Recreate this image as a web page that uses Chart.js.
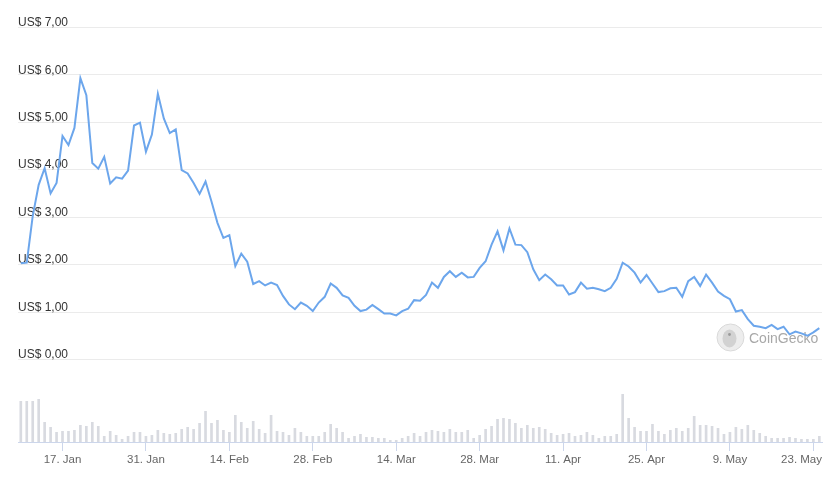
<!DOCTYPE html>
<html>
<head>
<meta charset="utf-8">
<script src="https://cdn.jsdelivr.net/npm/chart.js@4"></script>
<style>
  html, body { margin: 0; padding: 0; background: #ffffff; }
  #wrap { position: relative; width: 839px; height: 481px; }
</style>
</head>
<body>
<div id="wrap"><canvas id="c" width="839" height="481"></canvas></div>
<script>
// ---- data ----
const startDate = '2022-01-10';
const dayCount = 135;
const dates = [];
(function () {
  const d0 = new Date(startDate + 'T00:00:00Z');
  for (let i = 0; i < dayCount; i++) {
    const d = new Date(d0.getTime() + i * 86400000);
    dates.push(d.toISOString().slice(0, 10));
  }
})();

// price in USD (one per day)
const prices = [
  2.03, 2.04, 3.02, 3.68, 4.03, 3.50, 3.72, 4.71, 4.52, 4.88,
  5.93, 5.57, 4.14, 4.02, 4.27, 3.71, 3.84, 3.81, 3.98, 4.93,
  4.99, 4.38, 4.74, 5.60, 5.08, 4.77, 4.85, 3.99, 3.92, 3.72,
  3.49, 3.75, 3.33, 2.88, 2.56, 2.62, 1.97, 2.23, 2.06, 1.59,
  1.65, 1.56, 1.62, 1.57, 1.34, 1.16, 1.06, 1.20, 1.13, 1.02,
  1.20, 1.32, 1.60, 1.51, 1.35, 1.30, 1.13, 1.02, 1.05, 1.15,
  1.06, 0.97, 0.97, 0.93, 1.02, 1.07, 1.25, 1.24, 1.36, 1.62,
  1.51, 1.74, 1.86, 1.74, 1.83, 1.73, 1.74, 1.93, 2.07, 2.42,
  2.70, 2.30, 2.76, 2.42, 2.41, 2.26, 1.90, 1.67, 1.79, 1.69,
  1.56, 1.56, 1.37, 1.42, 1.62, 1.49, 1.51, 1.48, 1.44, 1.51,
  1.70, 2.04, 1.96, 1.83, 1.62, 1.78, 1.60, 1.42, 1.44, 1.50,
  1.51, 1.32, 1.65, 1.74, 1.55, 1.79, 1.62, 1.43, 1.34, 1.27,
  1.01, 1.04, 0.85, 0.71, 0.69, 0.66, 0.73, 0.64, 0.69, 0.53,
  0.59, 0.55, 0.50, 0.57, 0.66
];

// traded volume (millions USD, estimated)
const volumes = [
  12.2, 12.2, 12.2, 12.8, 5.9, 4.4, 2.9, 3.2, 3.2, 3.5,
  5.0, 4.7, 5.9, 4.7, 1.7, 3.2, 2.0, 0.8, 1.7, 2.9,
  2.9, 1.7, 2.0, 3.5, 2.6, 2.3, 2.6, 3.8, 4.4, 3.8,
  5.6, 9.2, 5.6, 6.5, 3.5, 2.9, 8.0, 5.9, 4.1, 6.2,
  3.8, 2.6, 8.0, 3.2, 2.9, 2.0, 4.1, 2.9, 1.7, 1.7,
  1.7, 2.9, 5.3, 4.1, 2.9, 1.1, 1.7, 2.3, 1.4, 1.4,
  1.1, 1.1, 0.5, 0.5, 1.1, 1.7, 2.6, 1.7, 2.9, 3.5,
  3.2, 2.9, 3.8, 2.9, 2.9, 3.5, 1.1, 2.0, 3.8, 4.7,
  6.8, 7.1, 6.8, 5.6, 4.1, 5.0, 4.1, 4.4, 3.8, 2.6,
  2.0, 2.3, 2.6, 1.7, 2.0, 2.9, 2.0, 1.1, 1.7, 1.7,
  2.3, 14.3, 7.1, 4.4, 3.2, 3.2, 5.3, 3.2, 2.3, 3.5,
  4.1, 3.2, 4.1, 7.7, 5.0, 5.0, 4.7, 4.1, 2.3, 2.9,
  4.4, 3.8, 5.0, 3.5, 2.6, 1.7, 1.1, 1.1, 1.1, 1.4,
  1.1, 0.8, 0.8, 0.8, 1.7
];

const tickDates  = ['2022-01-17','2022-01-31','2022-02-14','2022-02-28','2022-03-14',
                    '2022-03-28','2022-04-11','2022-04-25','2022-05-09','2022-05-23'];
const tickLabels = ['17. Jan','31. Jan','14. Feb','28. Feb','14. Mar',
                    '28. Mar','11. Apr','25. Apr','9. May','23. May'];
const priceTicks = [0, 1, 2, 3, 4, 5, 6, 7];

// ---- build ----
const tickIdx = tickDates.map(d => dates.indexOf(d));
const labelByIdx = {};
tickIdx.forEach((ix, k) => { labelByIdx[ix] = tickLabels[k]; });

// keep the last x label inside the plot area (right-justified to plot edge)
const justifyLastLabel = {
  id: 'justifyLastLabel',
  beforeDraw(chart) {
    const sc = chart.scales.x;
    const items = sc.getLabelItems();
    if (!items || !items.length) return;
    const last = items[items.length - 1];
    const ctx = chart.ctx;
    ctx.save();
    ctx.font = last.font.string;
    const w = ctx.measureText(String(last.label)).width;
    ctx.restore();
    const rightEdge = chart.chartArea.right;
    const x = last.options.translation[0];
    if (x + w / 2 > rightEdge) {
      last.options.translation[0] = rightEdge - w / 2;
    }
  }
};

const watermark = {
  id: 'watermark',
  beforeDatasetsDraw(chart) {
    const ctx = chart.ctx;
    ctx.save();
    const cx = 730.5, cy = 337.5, r = 13.5;
    ctx.beginPath();
    ctx.arc(cx, cy, r, 0, Math.PI * 2);
    ctx.fillStyle = '#ededed';
    ctx.fill();
    ctx.lineWidth = 1;
    ctx.strokeStyle = '#d9d9d9';
    ctx.stroke();
    ctx.beginPath();
    ctx.ellipse(cx - 1, cy + 1, 7, 9, 0, 0, Math.PI * 2);
    ctx.fillStyle = '#d2d2d2';
    ctx.fill();
    ctx.beginPath();
    ctx.arc(cx - 1, cy - 3, 1.4, 0, Math.PI * 2);
    ctx.fillStyle = '#9a9a9a';
    ctx.fill();
    ctx.font = '14px "Liberation Sans", Arial, sans-serif';
    ctx.fillStyle = '#a8a8a8';
    ctx.textBaseline = 'alphabetic';
    ctx.textAlign = 'left';
    ctx.fillText('CoinGecko', 749, 342.5);
    ctx.restore();
  }
};

new Chart(document.getElementById('c'), {
  type: 'line',
  data: {
    datasets: [
      {
        type: 'line',
        label: 'Price',
        data: prices.map((v, i) => ({ x: i, y: v })),
        yAxisID: 'y',
        borderColor: '#6ca6ec',
        borderWidth: 2,
        pointRadius: 0,
        tension: 0,
        fill: false,
        order: 1
      },
      {
        type: 'bar',
        label: 'Volume',
        data: volumes.map((v, i) => ({ x: i, y: v })),
        yAxisID: 'y2',
        backgroundColor: '#d8dae0',
        barThickness: 2,
        order: 2
      }
    ]
  },
  plugins: [justifyLastLabel, watermark],
  options: {
    responsive: false,
    animation: false,
    layout: { padding: { left: 18, right: 17, top: 27.3, bottom: 12.2 } },
    plugins: { legend: { display: false }, tooltip: { enabled: false } },
    scales: {
      x: {
        type: 'linear',
        min: -0.47,
        max: 134.45,
        offset: false,
        afterBuildTicks(axis) { axis.ticks = tickIdx.map(v => ({ value: v })); },
        grid: { display: true, offset: false, drawOnChartArea: false, drawTicks: true, tickLength: 9, color: '#ccd6eb', lineWidth: 1 },
        border: { display: true, color: '#ccd6eb', width: 1 },
        ticks: {
          autoSkip: false, maxRotation: 0, padding: 2,
          color: '#666666',
          font: { family: '"Liberation Sans", Arial, sans-serif', size: 11.5 },
          callback: (v) => labelByIdx[v] || ''
        }
      },
      y: {
        position: 'left',
        min: -1.739,
        max: 7,
        afterBuildTicks(axis) { axis.ticks = priceTicks.map(v => ({ value: v })); },
        grid: { color: '#ebebeb', lineWidth: 1, drawTicks: false },
        border: { display: false },
        ticks: {
          mirror: true, padding: 0, labelOffset: -4.5,
          color: '#333333',
          font: { family: '"Liberation Sans", Arial, sans-serif', size: 12 },
          callback: (v) => 'US$ ' + Number(v).toFixed(2).replace('.', ',')
        }
      },
      y2: {
        display: false,
        position: 'right',
        min: 0,
        max: 124.7,
        grid: { display: false }
      }
    }
  }
});
</script>
</body>
</html>
